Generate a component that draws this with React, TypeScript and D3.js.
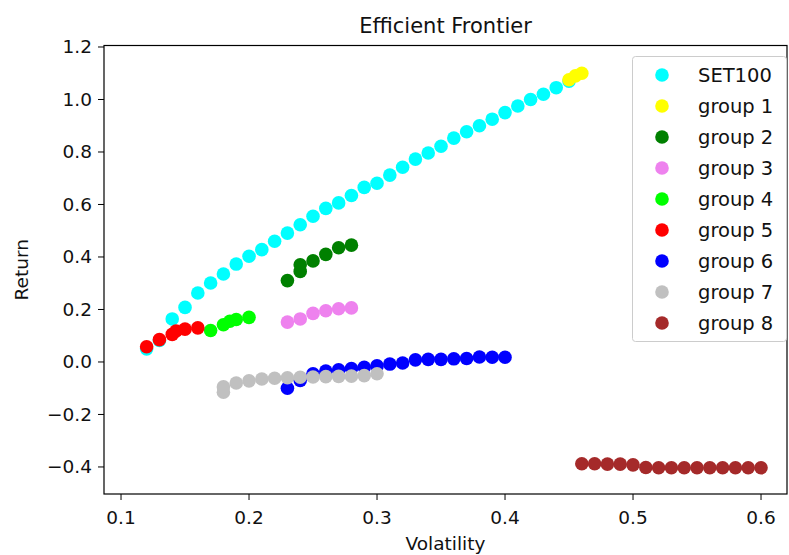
import React from "react";
import * as d3 from "d3";

type Pt = [number, number];

const set100: Pt[] = [
  [0.12, 0.05], [0.13, 0.082], [0.14, 0.164], [0.15, 0.208], [0.16, 0.263], [0.17, 0.301],
  [0.18, 0.335], [0.19, 0.373], [0.2, 0.403], [0.21, 0.428], [0.22, 0.46], [0.23, 0.491],
  [0.24, 0.523], [0.25, 0.555], [0.26, 0.585], [0.27, 0.606], [0.28, 0.634], [0.29, 0.665],
  [0.3, 0.681], [0.31, 0.712], [0.32, 0.742], [0.33, 0.773], [0.34, 0.796], [0.35, 0.822],
  [0.36, 0.853], [0.37, 0.877], [0.38, 0.9], [0.39, 0.925], [0.4, 0.95], [0.41, 0.975],
  [0.42, 1.0], [0.43, 1.02], [0.44, 1.045], [0.45, 1.07],
];
const group1: Pt[] = [[0.45, 1.075], [0.455, 1.09], [0.46, 1.1]];
const group2: Pt[] = [[0.23, 0.31], [0.24, 0.345], [0.24, 0.37], [0.25, 0.385], [0.26, 0.41], [0.27, 0.435], [0.28, 0.445]];
const group3: Pt[] = [[0.23, 0.152], [0.24, 0.164], [0.25, 0.185], [0.26, 0.195], [0.27, 0.203], [0.28, 0.206]];
const group4: Pt[] = [[0.17, 0.12], [0.18, 0.142], [0.185, 0.155], [0.19, 0.162], [0.2, 0.17]];
const group5: Pt[] = [[0.12, 0.058], [0.13, 0.085], [0.14, 0.105], [0.143, 0.118], [0.15, 0.125], [0.16, 0.13]];
const group6: Pt[] = [
  [0.23, -0.1], [0.24, -0.07], [0.25, -0.045], [0.26, -0.035], [0.27, -0.03], [0.28, -0.025],
  [0.29, -0.02], [0.3, -0.015], [0.31, -0.008], [0.32, -0.004], [0.33, 0.008], [0.34, 0.01],
  [0.35, 0.01], [0.36, 0.012], [0.37, 0.013], [0.38, 0.019], [0.39, 0.018], [0.4, 0.018],
];
const group7: Pt[] = [
  [0.18, -0.115], [0.18, -0.095], [0.19, -0.08], [0.2, -0.072], [0.21, -0.065], [0.22, -0.062],
  [0.23, -0.06], [0.24, -0.058], [0.25, -0.057], [0.26, -0.056], [0.27, -0.055], [0.28, -0.054],
  [0.29, -0.052], [0.3, -0.045],
];
const group8: Pt[] = [
  [0.46, -0.388], [0.47, -0.388], [0.48, -0.389], [0.49, -0.389], [0.5, -0.392], [0.51, -0.402],
  [0.52, -0.403], [0.53, -0.403], [0.54, -0.403], [0.55, -0.403], [0.56, -0.403], [0.57, -0.403],
  [0.58, -0.403], [0.59, -0.403], [0.6, -0.403],
];

const seriesNames = ["SET100", "group 1", "group 2", "group 3", "group 4", "group 5", "group 6", "group 7", "group 8"];
const seriesData = [set100, group1, group2, group3, group4, group5, group6, group7, group8];
const seriesColors = ["#00ffff", "#ffff00", "#008000", "#ee82ee", "#00ff00", "#ff0000", "#0000ff", "#c0c0c0", "#a52a2a"];

const xTicks = [0.1, 0.2, 0.3, 0.4, 0.5, 0.6];
const yTicks = [-0.4, -0.2, 0.0, 0.2, 0.4, 0.6, 0.8, 1.0, 1.2];

const W = 789;
const H = 555;
const left = 104, right = 787, top = 45.5, bottom = 494;
const FONT = "DejaVu Sans, sans-serif";
const fs = 18.5;

export default function App() {
  const x = d3.scaleLinear().domain([0.0867, 0.6203]).range([left, right]);
  const y = d3.scaleLinear().domain([-0.503, 1.2057]).range([bottom, top]);
  const fmt = d3.format(".1f");
  const r = 6.8;
  return (
    <svg width={W} height={H} style={{ position: "absolute", left: 0, top: 0, background: "#fff" }}>
      <rect x={0} y={0} width={W} height={H} fill="#fff" />
      <g>
        {seriesData.map((d, i) => (
          <g key={i} fill={seriesColors[i]}>
            {d.map((p, j) => (
              <circle key={j} cx={x(p[0])} cy={y(p[1])} r={r} />
            ))}
          </g>
        ))}
      </g>
      <rect x={left} y={top} width={right - left} height={bottom - top} fill="none" stroke="#000" strokeWidth={1.2} />
      {xTicks.map((t) => (
        <g key={t}>
          <line x1={x(t)} x2={x(t)} y1={bottom} y2={bottom + 6} stroke="#000" strokeWidth={1} />
          <text x={x(t)} y={bottom + 30} textAnchor="middle" fontFamily={FONT} fontSize={fs} fill="#111">
            {fmt(t)}
          </text>
        </g>
      ))}
      {yTicks.map((t) => (
        <g key={t}>
          <line x1={left - 6} x2={left} y1={y(t)} y2={y(t)} stroke="#000" strokeWidth={1} />
          <text x={left - 12} y={y(t) + 6.5} textAnchor="end" fontFamily={FONT} fontSize={fs} fill="#111">
            {t < 0 ? "\u2212" + fmt(-t) : fmt(t)}
          </text>
        </g>
      ))}
      <text x={(left + right) / 2} y={33} textAnchor="middle" fontFamily={FONT} fontSize={21} fill="#111">
        Efficient Frontier
      </text>
      <text x={(left + right) / 2} y={550} textAnchor="middle" fontFamily={FONT} fontSize={fs} fill="#111">
        Volatility
      </text>
      <text transform={`translate(28, ${(top + bottom) / 2}) rotate(-90)`} textAnchor="middle" fontFamily={FONT} fontSize={fs} fill="#111">
        Return
      </text>
      <g>
        <rect x={632.5} y={56.5} width={154} height={285} rx={3} fill="#fff" fillOpacity={0.8} stroke="#cccccc" strokeWidth={1} />
        {seriesNames.map((n, i) => (
          <g key={n} transform={`translate(0, ${75 + i * 31})`}>
            <circle cx={662} cy={0} r={r} fill={seriesColors[i]} />
            <text x={698} y={7} fontFamily={FONT} fontSize={19.5} fill="#111">
              {n}
            </text>
          </g>
        ))}
      </g>
    </svg>
  );
}
